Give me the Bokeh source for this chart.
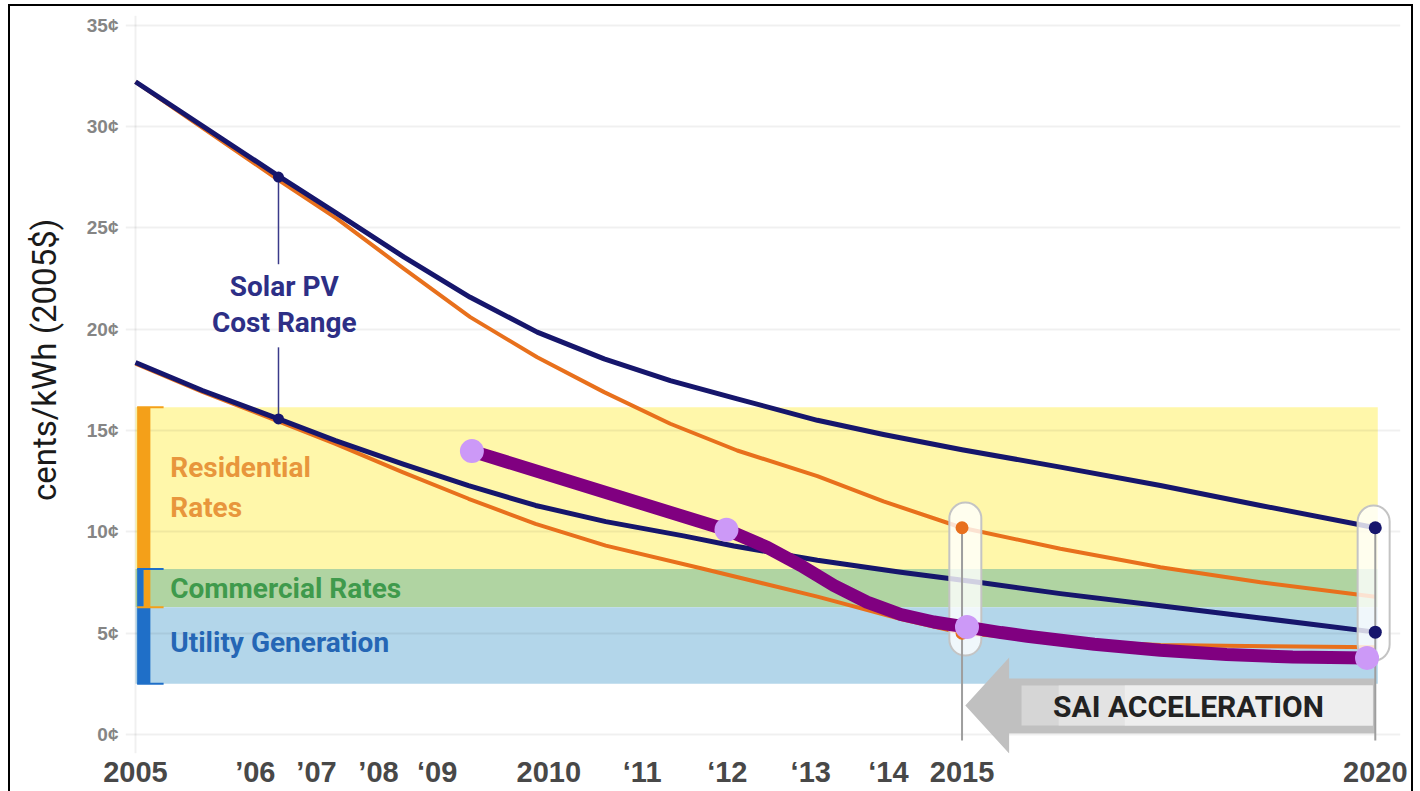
from bokeh.plotting import figure
from bokeh.models import FixedTicker, Title
from bokeh.core.properties import value
from bokeh.embed import file_html
from bokeh.resources import INLINE

# ---------------- data ----------------
x_tick_pos = [2005, 2006.45, 2007.19, 2007.94, 2008.65, 2010, 2011.13, 2012.16, 2013.17, 2014.11, 2015, 2020]
x_tick_labels = ["2005", "\u201906", "\u201907", "\u201908", "\u201809", "2010", "\u201811", "\u201812", "\u201813", "\u201814", "2015", "2020"]
y_tick_pos = [0, 5, 10, 15, 20, 25, 30, 35]
y_tick_labels = ["0\u00a2", "5\u00a2", "10\u00a2", "15\u00a2", "20\u00a2", "25\u00a2", "30\u00a2", "35\u00a2"]
y_title = "cents/kWh (2005$)"

high_blue_x = [2005, 2006.75, 2007.44, 2008.25, 2009.05, 2009.86, 2010.67, 2011.47, 2012.28, 2013.25, 2014.05, 2015.0, 2016.19, 2017.4, 2018.61, 2020]
high_blue_y = [32.2, 27.5, 25.7, 23.55, 21.57, 19.85, 18.53, 17.46, 16.56, 15.5, 14.8, 14.05, 13.19, 12.28, 11.3, 10.2]
high_orange_x = [2005, 2006.75, 2007.44, 2008.25, 2009.05, 2009.86, 2010.67, 2011.47, 2012.28, 2013.25, 2014.05, 2015.0, 2016.19, 2017.4, 2018.61, 2020]
high_orange_y = [32.2, 27.3, 25.44, 22.97, 20.59, 18.61, 16.89, 15.33, 14.01, 12.75, 11.5, 10.2, 9.16, 8.25, 7.51, 6.8]
low_blue_x = [2005, 2005.81, 2006.73, 2007.42, 2008.23, 2009.03, 2009.84, 2010.69, 2011.63, 2012.24, 2013.25, 2014.26, 2015.22, 2016.19, 2017.4, 2018.61, 2020]
low_blue_y = [18.35, 16.97, 15.57, 14.5, 13.35, 12.28, 11.3, 10.5, 9.8, 9.3, 8.6, 8.0, 7.5, 6.95, 6.35, 5.75, 5.05]
low_orange_x = [2005, 2005.81, 2006.73, 2007.42, 2008.23, 2009.03, 2009.84, 2010.69, 2011.84, 2013.25, 2014.26, 2015.0, 2016.2, 2017.4, 2018.7, 2020]
low_orange_y = [18.3, 16.9, 15.45, 14.34, 12.94, 11.63, 10.39, 9.32, 8.2, 6.8, 5.7, 5.0, 4.62, 4.42, 4.36, 4.3]

range_marker_x = [2006.73, 2006.73]
range_marker_y = [27.5, 15.57]
orange_end_x = [2015, 2015]
orange_end_y = [10.2, 5.0]
blue_end_x = [2020, 2020]
blue_end_y = [10.2, 5.05]

sai_line_x = [2009.07, 2012.15, 2012.64, 2013.05, 2013.45, 2013.85, 2014.26, 2014.66, 2015.06, 2015.47, 2015.79, 2016.6, 2017.4, 2018.2, 2019.0, 2019.9]
sai_line_y = [13.98, 10.1, 9.24, 8.34, 7.35, 6.53, 5.92, 5.55, 5.3, 5.03, 4.85, 4.45, 4.16, 3.95, 3.82, 3.78]
sai_dot_x = [2009.07, 2012.15, 2015.06, 2019.9]
sai_dot_y = [13.98, 10.1, 5.3, 3.78]

band_names = ["Residential Rates", "Commercial Rates", "Utility Generation"]
band_bottom = [8.17, 6.28, 2.5]
band_top = [16.15, 8.17, 6.28]
band_colors = ["#fff7aa", "#b0d4a2", "#b3d6ea"]
band_start, band_end = 2005.0, 2020.03

sai_start, sai_end = 2015, 2020

# ---------------- figure ----------------
FONT = "Roboto"
NAVY = "#16166c"
ORANGE = "#e8701c"

p = figure(width=1420, height=791, x_range=(2004.879, 2020.305), y_range=(-0.937, 35.47),
           output_backend="svg", toolbar_location=None,
           min_border_left=125, min_border_right=20, min_border_top=15, min_border_bottom=38)
p.outline_line_color = None
p.border_fill_color = None
p.background_fill_color = "white"
p.styles = {
    "background": "white",
    "box-shadow": ("inset 8px 0 0 0 #fff, inset -7px 0 0 0 #fff, inset 0 4px 0 0 #fff, "
                   "inset 10px 0 0 0 #000, inset -9px 0 0 0 #000, inset 0 6px 0 0 #000"),
}

# axes
p.xaxis.ticker = FixedTicker(ticks=x_tick_pos)
p.xaxis.major_label_overrides = dict(zip(x_tick_pos, x_tick_labels))
p.yaxis.ticker = FixedTicker(ticks=y_tick_pos)
p.yaxis.major_label_overrides = dict(zip(y_tick_pos, y_tick_labels))
for ax in (p.xaxis, p.yaxis):
    ax.axis_line_color = None
    ax.major_tick_line_color = None
    ax.minor_tick_line_color = None
    ax.major_tick_out = 0
    ax.major_tick_in = 0
p.xaxis.major_label_text_font = "Liberation Sans"
p.xaxis.major_label_text_font_style = "bold"
p.xaxis.major_label_text_font_size = "29px"
p.xaxis.major_label_text_color = "#484848"
p.xaxis.major_label_standoff = 2
p.yaxis.major_label_text_font = "Liberation Sans"
p.yaxis.major_label_text_font_style = "bold"
p.yaxis.major_label_text_font_size = "19px"
p.yaxis.major_label_text_color = "#858585"
p.yaxis.major_label_standoff = 7

# y-axis title; leading no-break spaces lift it a little above the frame centre, as in the reference
p.add_layout(Title(text="\u00a0" * 6 + y_title, align="center", standoff=39,
                   text_font=FONT, text_font_size="33px", text_font_style="normal",
                   text_color="#1a1a1a"), "left")

# grid
p.ygrid.ticker = FixedTicker(ticks=y_tick_pos)
p.xgrid.ticker = FixedTicker(ticks=[2005])
for g in (p.xgrid, p.ygrid):
    g.grid_line_color = "#000000"
    g.grid_line_alpha = 0.06
    g.grid_line_width = 2

# rate bands (below the grid)
p.quad(left=band_start, right=band_end, bottom=band_bottom, top=band_top,
       fill_color=band_colors, line_color=None, level="image")

# bracket bars on the left of the bands
BAR_O, BAR_B = "#f4a019", "#1f6fc8"
p.quad(left=[2005.02, 2005.02, 2005.10, 2005.02], right=[2005.18, 2005.10, 2005.18, 2005.18],
       bottom=[band_bottom[0], band_bottom[1], band_bottom[1], band_bottom[2]],
       top=[band_top[0], band_top[1], band_top[1], band_top[2]],
       fill_color=[BAR_O, BAR_B, BAR_O, BAR_B], line_color=None)
p.segment(x0=[2005.02] * 4, x1=[2005.34] * 4,
          y0=[band_top[0], band_top[1], band_bottom[1], band_bottom[2]],
          y1=[band_top[0], band_top[1], band_bottom[1], band_bottom[2]],
          line_color=[BAR_O, BAR_B, BAR_O, BAR_B], line_width=2)

# SAI acceleration arrow
head_x = sai_start + 0.57
p.patch(x=[sai_start + 0.04, head_x, head_x, sai_end, sai_end, head_x, head_x],
        y=[1.43, 3.8, 2.76, 2.76, 0.05, 0.05, -0.94],
        fill_color="#c0c0c0", line_color=None)
p.quad(left=head_x + 0.15, right=sai_end - 0.03, bottom=0.44, top=2.42, fill_color="#d6d6d6", line_color=None)
p.quad(left=head_x + 0.6, right=sai_end - 0.03, bottom=0.44, top=2.42, fill_color="#e3e3e3", line_color=None)
p.quad(left=head_x + 1.4, right=sai_end - 0.03, bottom=0.44, top=2.42, fill_color="#eeeeee", line_color=None)

# solar PV cost curves
p.line(high_orange_x, high_orange_y, line_color=ORANGE, line_width=4, line_join="round")
p.line(low_orange_x, low_orange_y, line_color=ORANGE, line_width=4, line_join="round")
p.line(high_blue_x, high_blue_y, line_color=NAVY, line_width=5, line_join="round")
p.line(low_blue_x, low_blue_y, line_color=NAVY, line_width=5, line_join="round")

# connector for "Solar PV Cost Range"
p.segment(x0=range_marker_x, x1=range_marker_x, y0=[range_marker_y[0], 19.1], y1=[23.2, range_marker_y[1]],
          line_color="#3a3a8a", line_width=1.5)

# pills at 2015 / 2020
p.rect(x=[2015.04, 2019.98], y=[7.67, 7.47], width=32, width_units="screen", height=[7.55, 7.65],
       fill_color="white", fill_alpha=0.8, line_color="#c4c4c4", line_width=2, border_radius=16)
p.segment(x0=[sai_start, sai_end], x1=[sai_start, sai_end], y0=[orange_end_y[0], blue_end_y[0]], y1=[-0.3, -0.3],
          line_color="#9e9e9e", line_width=2)

# end markers
p.scatter(range_marker_x, range_marker_y, size=11, fill_color=NAVY, line_color=None)
p.scatter(orange_end_x, orange_end_y, size=13, fill_color=ORANGE, line_color=None)
p.scatter(blue_end_x, blue_end_y, size=13, fill_color=NAVY, line_color=None)

# overlay: SAI trajectory
p.line(sai_line_x, sai_line_y, line_color="#800080", line_width=13, line_join="round", line_cap="round")
p.scatter(sai_dot_x, sai_dot_y, size=24, fill_color="#cc99f7", line_color=None)

# texts
def txt(x, y, s, color, size, align="left", style="bold"):
    p.text(x=[x], y=[y], text=[s], text_color=color, text_font=value(FONT), text_font_size=size,
           text_font_style=style, text_align=align, text_baseline="alphabetic")

txt(2005.42, 13.15, "Residential", "#e8963c", "28px")
txt(2005.42, 11.18, "Rates", "#e8963c", "28px")
txt(2005.42, 7.19, band_names[1], "#3f9a4c", "28px")
txt(2005.42, 4.54, band_names[2], "#2566b5", "28px")
txt(2006.80, 22.1, "Solar PV", "#2d2f86", "28px", align="center")
txt(2006.80, 20.32, "Cost Range", "#2d2f86", "28px", align="center")
txt(2017.74, 1.38, "SAI ACCELERATION", "#222222", "30px", align="center")

open("out.html", "w").write(file_html(p, INLINE))
